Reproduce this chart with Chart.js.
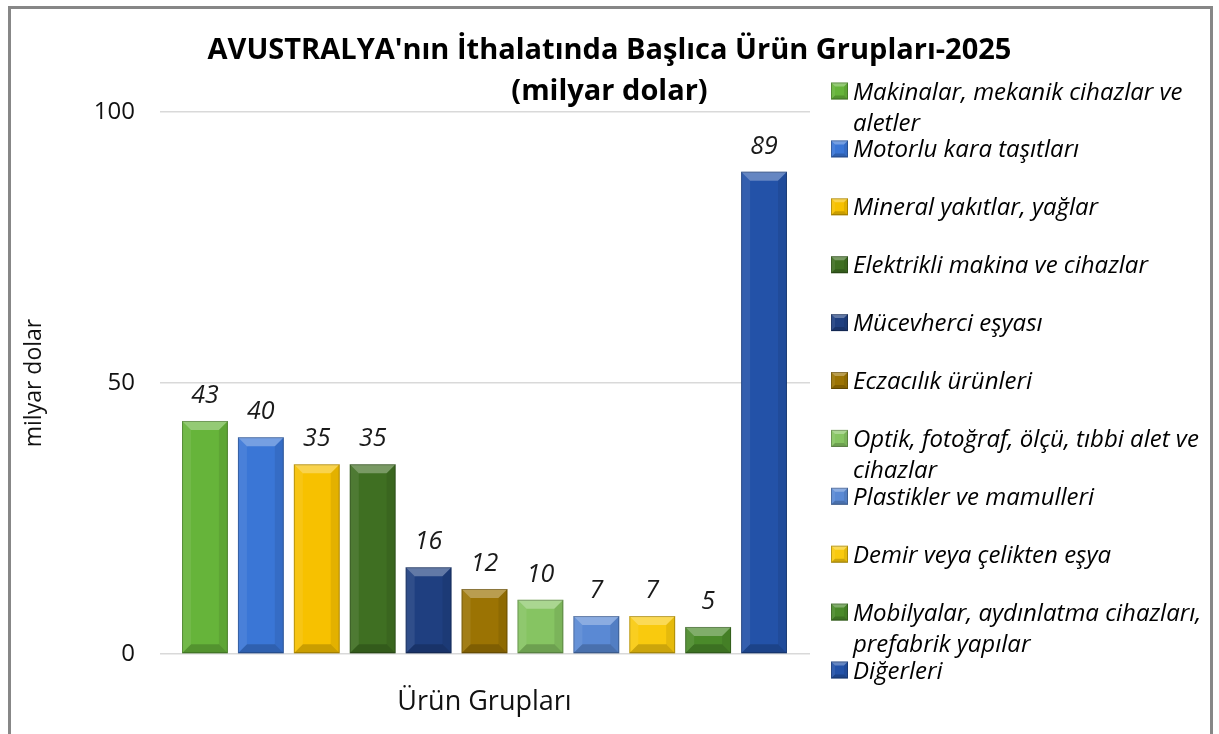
<!DOCTYPE html>
<html lang="tr">
<head>
<meta charset="utf-8">
<title>AVUSTRALYA'nın İthalatında Başlıca Ürün Grupları-2025</title>
<script src="https://cdn.jsdelivr.net/npm/chart.js@4.4.1/dist/chart.umd.min.js"></script>
<style>
  html, body { margin: 0; padding: 0; background: #fff; overflow: hidden; }
  .frame {
    position: absolute; left: 8px; top: 6px;
    width: 1199px; height: 800px;
    border: 3px solid #878787; border-bottom: none;
  }
  #chart { position: absolute; left: 0; top: 0; }
</style>
</head>
<body>
<div class="frame"></div>
<canvas id="chart" width="1219" height="734"></canvas>
<script>
'use strict';

// Ürün grupları (legend order = bar order).
const categories = [
  ['Makinalar, mekanik cihazlar ve', 'aletler'],
  'Motorlu kara taşıtları',
  'Mineral yakıtlar, yağlar',
  'Elektrikli makina ve cihazlar',
  'Mücevherci eşyası',
  'Eczacılık ürünleri',
  ['Optik, fotoğraf, ölçü, tıbbi alet ve', 'cihazlar'],
  'Plastikler ve mamulleri',
  'Demir veya çelikten eşya',
  ['Mobilyalar, aydınlatma cihazları,', 'prefabrik yapılar'],
  'Diğerleri',
];

// İthalat, milyar dolar.
const values = [43, 40, 35, 35, 16, 12, 10, 7, 7, 5, 89];

const yTicks = [0, 50, 100];

const barColors = [
  '#66b43a',
  '#3a76d6',
  '#f7c100',
  '#3f6f22',
  '#1f3f80',
  '#9b7303',
  '#86c462',
  '#5a89d4',
  '#f9ca0e',
  '#4a8a2a',
  '#2352a8',
];

const FONT = "'Open Sans', sans-serif";
Chart.defaults.font.family = FONT;

// Excel-like bevel on every bar.
function bevel(ctx, l, t, r, b, size) {
  ctx.fillStyle = 'rgba(255,255,255,0.30)';
  ctx.beginPath();
  ctx.moveTo(l, t); ctx.lineTo(r, t); ctx.lineTo(r - size, t + size); ctx.lineTo(l + size, t + size);
  ctx.closePath(); ctx.fill();

  ctx.fillStyle = 'rgba(255,255,255,0.08)';
  ctx.beginPath();
  ctx.moveTo(l, t); ctx.lineTo(l + size, t + size); ctx.lineTo(l + size, b - size); ctx.lineTo(l, b);
  ctx.closePath(); ctx.fill();

  ctx.fillStyle = 'rgba(0,0,0,0.08)';
  ctx.beginPath();
  ctx.moveTo(r, t); ctx.lineTo(r - size, t + size); ctx.lineTo(r - size, b - size); ctx.lineTo(r, b);
  ctx.closePath(); ctx.fill();

  ctx.fillStyle = 'rgba(0,0,0,0.18)';
  ctx.beginPath();
  ctx.moveTo(l, b); ctx.lineTo(l + size, b - size); ctx.lineTo(r - size, b - size); ctx.lineTo(r, b);
  ctx.closePath(); ctx.fill();

  ctx.strokeStyle = 'rgba(0,0,0,0.25)';
  ctx.lineWidth = 1;
  ctx.strokeRect(l + 0.5, t + 0.5, r - l - 1, b - t - 1);
}

const bevelPlugin = {
  id: 'bevel',
  afterDatasetsDraw(chart) {
    const ctx = chart.ctx;
    ctx.save();
    chart.getDatasetMeta(0).data.forEach(bar => {
      const p = bar.getProps(['x', 'y', 'base', 'width'], true);
      const size = Math.min(9, (p.base - p.y) / 2);
      bevel(ctx, p.x - p.width / 2, p.y, p.x + p.width / 2, p.base, size);
    });
    ctx.restore();
  },
};

const valueLabels = {
  id: 'valueLabels',
  afterDatasetsDraw(chart) {
    const ctx = chart.ctx;
    ctx.save();
    ctx.font = 'italic 25px ' + FONT;
    ctx.fillStyle = '#1a1a1a';
    ctx.textAlign = 'center';
    ctx.textBaseline = 'alphabetic';
    chart.getDatasetMeta(0).data.forEach((bar, i) => {
      ctx.fillText(String(values[i]), bar.x, bar.y - 18);
    });
    ctx.restore();
  },
};

// One legend entry per bar, fixed row pitch like the original.
const sideLegend = {
  id: 'sideLegend',
  afterDraw(chart) {
    const ctx = chart.ctx;
    const left = 831, top = 91, pitch = 57.9, box = 17;
    ctx.save();
    ctx.font = 'italic 24px ' + FONT;
    ctx.textAlign = 'left';
    ctx.textBaseline = 'alphabetic';
    categories.forEach((label, i) => {
      const cy = top + i * pitch;
      ctx.fillStyle = barColors[i];
      ctx.fillRect(left, cy - box / 2, box, box);
      bevel(ctx, left, cy - box / 2, left + box, cy + box / 2, 4);
      ctx.fillStyle = '#000';
      const lines = Array.isArray(label) ? label : [label];
      lines.forEach((line, j) => {
        ctx.fillText(line, left + 22, cy + 8.5 + j * 31, 358);
      });
    });
    ctx.restore();
  },
};

const setTicks = scale => {
  scale.ticks = yTicks.map(v => ({ value: v }));
};

new Chart(document.getElementById('chart'), {
  type: 'bar',
  data: {
    labels: categories,
    datasets: [
      {
        data: values,
        backgroundColor: barColors,
        borderWidth: 0,
        categoryPercentage: 1,
        barPercentage: 0.82,
      },
    ],
  },
  options: {
    responsive: false,
    animation: false,
    devicePixelRatio: 1,
    layout: { padding: 0 },
    plugins: {
      legend: { display: false },
      tooltip: { enabled: false },
      title: {
        display: true,
        text: ["AVUSTRALYA'nın İthalatında Başlıca Ürün Grupları-2025", '(milyar dolar)'],
        color: '#000',
        font: { size: 29, weight: 'bold', lineHeight: 1.414 },
        padding: { top: 30, bottom: 0 },
      },
    },
    scales: {
      x: {
        ticks: { display: false },
        grid: { display: false },
        border: { display: false },
        title: {
          display: true,
          text: 'Ürün Grupları',
          color: '#111',
          font: { size: 27 },
          padding: { top: 0, bottom: 15 },
        },
        afterFit: scale => { scale.height = 80; },
      },
      y: {
        position: 'left',
        min: 0,
        max: 100,
        afterBuildTicks: setTicks,
        ticks: { color: '#111', font: { size: 24 }, padding: 25 },
        grid: { color: '#d9d9d9', lineWidth: 1.5, drawTicks: true, tickLength: 17 },
        border: { display: false },
        title: {
          display: true,
          text: 'milyar dolar',
          color: '#111',
          font: { size: 23 },
          padding: { top: 21, bottom: 0 },
        },
        afterFit: scale => { scale.width = 177; },
      },
      yRight: {
        position: 'right',
        min: 0,
        max: 100,
        afterBuildTicks: setTicks,
        ticks: { display: false },
        grid: { color: '#d9d9d9', lineWidth: 1.5, drawOnChartArea: false, drawTicks: true, tickLength: 18 },
        border: { display: false },
        afterFit: scale => { scale.width = 427; },
      },
    },
  },
  plugins: [bevelPlugin, valueLabels, sideLegend],
});
</script>
</body>
</html>
